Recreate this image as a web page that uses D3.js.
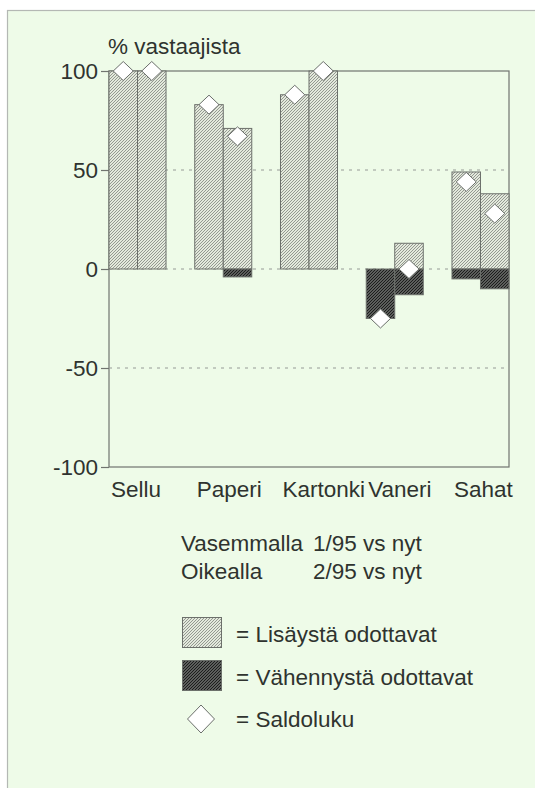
<!DOCTYPE html>
<html>
<head>
<meta charset="utf-8">
<script src="https://cdn.jsdelivr.net/npm/d3@7/dist/d3.min.js"></script>
<style>
  html, body { margin: 0; padding: 0; background: #ffffff; }
  svg { display: block; font-family: "Liberation Sans", Arial, Helvetica, sans-serif; }
</style>
</head>
<body>
<svg id="chart" width="535" height="788"></svg>
<script>
// Odotukset: osuus vastaajista, jotka odottavat lisäystä / vähennystä
const categories = ["Sellu", "Paperi", "Kartonki", "Vaneri", "Sahat"];
const periods = ["1/95", "2/95"];

const increaseLeft  = [100, 83, 88, 0, 49];   // 1/95 vs nyt
const decreaseLeft  = [0, 0, 0, -25, -5];
const saldoLeft     = [100, 83, 88, -25, 44];

const increaseRight = [100, 71, 100, 13, 38]; // 2/95 vs nyt
const decreaseRight = [0, -4, 0, -13, -10];
const saldoRight    = [100, 67, 100, 0, 28];

const yTicks = [-100, -50, 0, 50, 100];
const gridValues = [-50, 0, 50];

const yTitle = "% vastaajista";
const periodNotes = [["Vasemmalla", "1/95 vs nyt"], ["Oikealla", "2/95 vs nyt"]];
const legendLabels = ["= Lisäystä odottavat", "= Vähennystä odottavat", "= Saldoluku"];

const textColor = "#2f332f";
const lineColor = "#70746f";

const svg = d3.select("#chart");

// light green page panel
svg.append("rect")
  .attr("x", 7.5).attr("y", 10.5)
  .attr("width", 540).attr("height", 790)
  .attr("fill", "#eefbe8")
  .attr("stroke", "#b4b8b4").attr("stroke-width", 1.2);

// hatch patterns
const defs = svg.append("defs");
function hatch(id, bg, fg, w) {
  const p = defs.append("pattern")
    .attr("id", id)
    .attr("patternUnits", "userSpaceOnUse")
    .attr("width", 3).attr("height", 3);
  p.append("rect").attr("width", 3).attr("height", 3).attr("fill", bg);
  p.append("path")
    .attr("d", "M-1,1 L1,-1 M0,3 L3,0 M2,4 L4,2")
    .attr("stroke", fg).attr("stroke-width", w);
}
hatch("hatchLight", "#e3e9dc", "#8a8f88", 0.9);
hatch("hatchDark", "#5c5e5c", "#1c1d1c", 1.0);

// scales
const x = d3.scaleBand().domain(categories).range([109, 509])
  .paddingInner(0.335).paddingOuter(0);
const xSub = d3.scaleBand().domain(periods).range([0, x.bandwidth()]).padding(0);
const y = d3.scaleLinear().domain([-100, 100]).range([467, 71]);

// frame
svg.append("rect")
  .attr("x", x.range()[0]).attr("y", y(100))
  .attr("width", x.range()[1] - x.range()[0])
  .attr("height", y(-100) - y(100))
  .attr("fill", "none").attr("stroke", lineColor).attr("stroke-width", 1.2);

// dashed reference lines
svg.append("g").selectAll("line").data(gridValues).join("line")
  .attr("x1", x.range()[0]).attr("x2", x.range()[1])
  .attr("y1", d => y(d)).attr("y2", d => y(d))
  .attr("stroke", "#969a96").attr("stroke-width", 1)
  .attr("stroke-dasharray", "3,5");

// y axis (plain hyphen for negatives)
const yAxis = svg.append("g")
  .attr("transform", `translate(${x.range()[0]},0)`)
  .call(d3.axisLeft(y).tickValues(yTicks).tickSize(8).tickPadding(3).tickFormat(d => String(d)));
yAxis.select(".domain").remove();
yAxis.selectAll("line").attr("stroke", lineColor).attr("stroke-width", 1.2);
yAxis.selectAll("text")
  .attr("fill", textColor).attr("font-size", 22.5)
  .attr("font-family", "'Liberation Sans', Arial, sans-serif");

svg.append("text")
  .attr("x", 108).attr("y", 54)
  .attr("fill", textColor).attr("font-size", 22.5)
  .text(yTitle);

// category labels
svg.append("g").selectAll("text").data(categories).join("text")
  .attr("x", d => x(d) + 2).attr("y", 497)
  .attr("fill", textColor).attr("font-size", 22.5)
  .text(d => d);

// bars
const series = [
  { period: periods[0], inc: increaseLeft, dec: decreaseLeft, saldo: saldoLeft },
  { period: periods[1], inc: increaseRight, dec: decreaseRight, saldo: saldoRight }
];
const bars = [];
const marks = [];
series.forEach(s => {
  categories.forEach((c, i) => {
    const x0 = x(c) + xSub(s.period);
    if (s.inc[i] !== 0) bars.push({ x0, v0: 0, v1: s.inc[i], kind: "hatchLight" });
    if (s.dec[i] !== 0) bars.push({ x0, v0: s.dec[i], v1: 0, kind: "hatchDark" });
    marks.push({ cx: x0 + xSub.bandwidth() / 2, v: s.saldo[i] });
  });
});

svg.append("g").selectAll("rect").data(bars).join("rect")
  .attr("x", d => d.x0)
  .attr("y", d => y(d.v1))
  .attr("width", xSub.bandwidth())
  .attr("height", d => y(d.v0) - y(d.v1))
  .attr("fill", d => `url(#${d.kind})`)
  .attr("stroke", "#6c706b").attr("stroke-width", 1);

function diamond(hw, hh) {
  return `M0,${-hh} L${hw},0 L0,${hh} L${-hw},0 Z`;
}
svg.append("g").selectAll("path").data(marks).join("path")
  .attr("transform", d => `translate(${d.cx},${y(d.v)})`)
  .attr("d", diamond(10, 9.5))
  .attr("fill", "#ffffff").attr("stroke", "#6a6e6a").attr("stroke-width", 1);

// period notes
const notes = svg.append("g").attr("fill", textColor).attr("font-size", 22.5);
periodNotes.forEach((row, i) => {
  notes.append("text").attr("x", 181).attr("y", 551 + i * 28).text(row[0]);
  notes.append("text").attr("x", 313).attr("y", 551 + i * 28).text(row[1]);
});

// legend
const lg = svg.append("g");
lg.append("rect").attr("x", 182.5).attr("y", 617.5).attr("width", 39).attr("height", 30)
  .attr("fill", "url(#hatchLight)").attr("stroke", "#6c706b");
lg.append("rect").attr("x", 182.5).attr("y", 660.5).attr("width", 39).attr("height", 30)
  .attr("fill", "url(#hatchDark)").attr("stroke", "#6c706b");
lg.append("path").attr("transform", "translate(201,719)")
  .attr("d", diamond(13.5, 14))
  .attr("fill", "#ffffff").attr("stroke", "#6a6e6a").attr("stroke-width", 1);
lg.selectAll("text").data(legendLabels).join("text")
  .attr("x", 236).attr("y", (d, i) => [642, 685, 727][i])
  .attr("fill", textColor).attr("font-size", 22.5)
  .text(d => d);
</script>
</body>
</html>
